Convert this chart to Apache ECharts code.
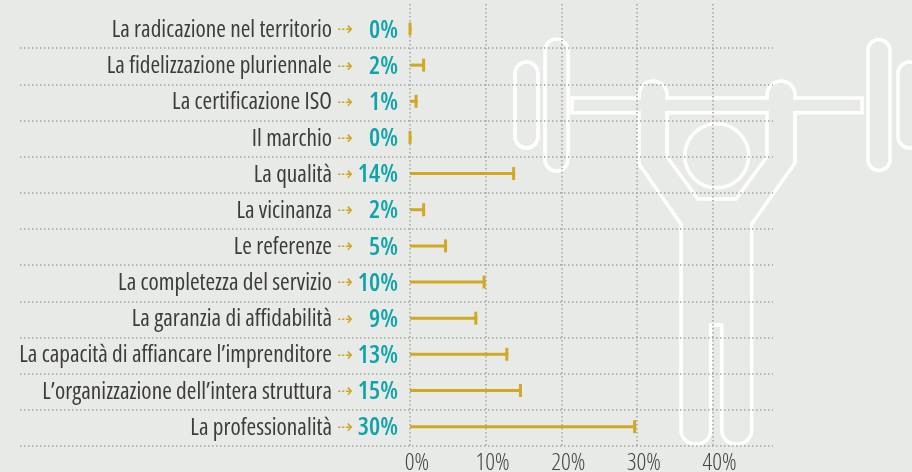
<!DOCTYPE html>
<html>
<head>
<meta charset="utf-8">
<title>Chart</title>
<script src="https://cdn.jsdelivr.net/npm/echarts@6/dist/echarts.min.js"></script>
<style>
  html, body { margin: 0; padding: 0; background: #e8eae7; }
  #main { width: 912px; height: 472px; }
</style>
</head>
<body>
<div id="main"></div>
<script>
var categories = [
  'La radicazione nel territorio',
  'La fidelizzazione pluriennale',
  'La certificazione ISO',
  'Il marchio',
  'La qualità',
  'La vicinanza',
  'Le referenze',
  'La completezza del servizio',
  'La garanzia di affidabilità',
  'La capacità di affiancare l’imprenditore',
  'L’organizzazione dell’intera struttura',
  'La professionalità'
];
// ends of the bars
var values = [0.2, 2, 1, 0.2, 13.9, 2, 4.9, 10, 8.9, 13, 14.8, 29.9];
// the printed percentages
var valueLabels = ['0%', '2%', '1%', '0%', '14%', '2%', '5%', '10%', '9%', '13%', '15%', '30%'];

// Open Sans has a width axis, fontStyle goes straight into the canvas font string
var FONT = '"Open Sans", sans-serif';
var NARROW = 'condensed';
var DOT_LINE = { color: '#a0a4a2', width: 1.5, type: [1.5, 2.5] };

// outline of the weightlifter behind the chart
var lifterPaths = [
  // body with barbell and legs
  'M572 98 L639 98 L639 95 A14 14 0 0 1 667 95 L667 98 L767 98 L767 95 A14 14 0 0 1 795 95 L795 98 L862 98 L862 112.7 L795 112.7 L795 163 L751.7 224 L751.7 430 A14 14 0 0 1 737.7 444 L735.7 444 A14 14 0 0 1 721.7 430 L721.7 325 L710.7 325 L710.7 430 A14 14 0 0 1 696.7 444 L695 444 A14 14 0 0 1 681 430 L681 224 L639 164 L639 112.7 L572 112.7 Z',
  // torso
  'M667 112.7 L767 112.7 L767 156.7 L736 199 L698 199 L667 156.7 Z',
  // plates
  'M515 73.5 A11.5 11.5 0 0 1 538 73.5 L538 136.5 A11.5 11.5 0 0 1 515 136.5 Z',
  'M545 50.5 A11.5 11.5 0 0 1 568 50.5 L568 159.5 A11.5 11.5 0 0 1 545 159.5 Z',
  'M868 50.5 A11 11 0 0 1 890 50.5 L890 159.5 A11 11 0 0 1 868 159.5 Z',
  'M898 73.5 A11.5 11.5 0 0 1 921 73.5 L921 136.5 A11.5 11.5 0 0 1 898 136.5 Z',
  // head
  'M684.7 155.8 A32 32 0 1 1 748.7 155.8 A32 32 0 1 1 684.7 155.8 Z'
];

function renderLifter() {
  return {
    type: 'group',
    children: lifterPaths.map(function (d) {
      return {
        type: 'path',
        shape: { pathData: d },
        style: { fill: 'none', stroke: '#ffffff', lineWidth: 3.6 }
      };
    })
  };
}

var myChart = echarts.init(document.getElementById('main'), null, { renderer: 'canvas' });

var option = {
  animation: false,
  backgroundColor: '#e8eae7',
  grid: [
    { left: 410, right: 139, top: 10.9, bottom: 27.3, outerBoundsMode: 'none' },
    { left: 410, right: 139, top: 4, bottom: 26, outerBoundsMode: 'none' },
    { left: 20, right: 139, top: 12, bottom: 26, outerBoundsMode: 'none' }
  ],
  xAxis: [
    { gridIndex: 0, type: 'value', min: 0, max: 48, show: false },
    {
      gridIndex: 1,
      type: 'value',
      min: 0,
      max: 48,
      interval: 10,
      axisLine: { show: false },
      axisTick: { show: false },
      axisLabel: {
        margin: 5,
        padding: [0, 0, 0, 14],
        showMaxLabel: false,
        fontFamily: FONT,
        fontStyle: NARROW,
        fontWeight: 300,
        fontSize: 24,
        color: '#444444',
        formatter: '{value}%'
      },
      splitLine: { show: true, showMaxLine: false, lineStyle: DOT_LINE }
    },
    { gridIndex: 2, type: 'value', min: 0, max: 1, show: false }
  ],
  yAxis: [
    {
      gridIndex: 0,
      type: 'category',
      inverse: true,
      data: categories,
      axisLine: { show: false },
      axisTick: { show: false },
      splitLine: { show: false },
      axisLabel: {
        margin: 12,
        interval: 0,
        padding: [3, 0, 0, 0],
        formatter: function (name, i) {
          return '{n|' + name + '}{a|⇢}{v|' + valueLabels[i] + '}';
        },
        rich: {
          n: { fontFamily: FONT, fontStyle: NARROW, fontSize: 23.3, color: '#3c3c3c' },
          a: { fontFamily: 'DejaVu Sans', fontSize: 19, color: '#d0a823', width: 26, align: 'center' },
          v: { fontFamily: FONT, fontStyle: NARROW, fontSize: 25, fontWeight: 600, color: '#0fa4a9', width: 40, align: 'right' }
        }
      }
    },
    { gridIndex: 1, type: 'value', min: 0, max: 1, show: false },
    {
      gridIndex: 2,
      type: 'value',
      min: 0,
      max: 12,
      interval: 1,
      axisLine: { show: false },
      axisTick: { show: false },
      axisLabel: { show: false },
      splitLine: { show: true, showMaxLine: false, lineStyle: DOT_LINE }
    }
  ],
  series: [
    {
      name: 'lifter',
      type: 'custom',
      xAxisIndex: 1,
      yAxisIndex: 1,
      silent: true,
      z: -1,
      renderItem: renderLifter,
      data: [[0, 0]]
    },
    {
      name: 'bars',
      type: 'bar',
      xAxisIndex: 0,
      yAxisIndex: 0,
      barWidth: 3,
      itemStyle: { color: '#d0a823' },
      data: values,
      z: 3
    },
    {
      name: 'caps',
      type: 'scatter',
      xAxisIndex: 0,
      yAxisIndex: 0,
      symbol: 'rect',
      symbolSize: [3, 13],
      symbolOffset: [-1.5, 0],
      itemStyle: { color: '#d0a823', opacity: 1 },
      data: values.map(function (v, i) { return [v, categories[i]]; }),
      z: 4
    }
  ]
};

myChart.setOption(option);
</script>
</body>
</html>
